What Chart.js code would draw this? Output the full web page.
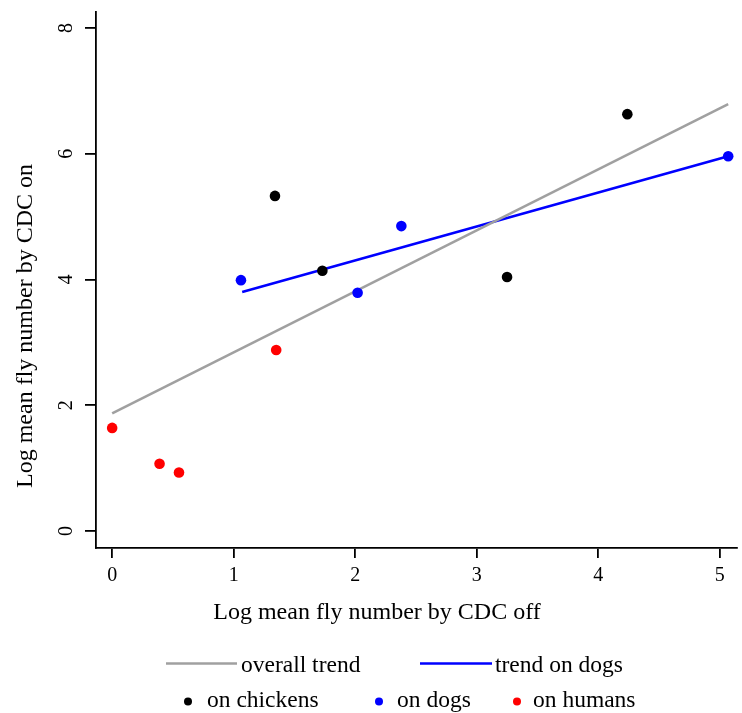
<!DOCTYPE html>
<html>
<head>
<meta charset="utf-8">
<script src="https://cdn.jsdelivr.net/npm/chart.js@4"></script>
<style>
  body { margin: 0; background: #fff; }
  #wrap { width: 742px; height: 713px; }
</style>
</head>
<body>
<div id="wrap"><canvas id="fly"></canvas></div>
<script>
// values (log mean fly numbers)
const chickenX = [1.34, 1.73, 3.25, 4.24];
const chickenY = [5.33, 4.14, 4.04, 6.63];
const dogX = [1.06, 2.02, 2.38, 5.07];
const dogY = [3.99, 3.79, 4.85, 5.96];
const humanX = [0.0, 0.39, 0.55, 1.35];
const humanY = [1.64, 1.07, 0.93, 2.88];
// fitted lines, end points as drawn
const overallX = [0.0, 5.07];
const overallY = [1.87, 6.79];
const dogTrendX = [1.07, 5.07];
const dogTrendY = [3.80, 5.96];
const xTicks = [0, 1, 2, 3, 4, 5];
const yTicks = [0, 2, 4, 6, 8];
const xTitle = 'Log mean fly number by CDC off';
const yTitle = 'Log mean fly number by CDC on';

const serif = "'Liberation Serif', 'Times New Roman', serif";
Chart.defaults.color = '#000';
Chart.defaults.font.family = serif;

function pts(xs, ys) {
  return xs.map((x, i) => ({ x: x, y: ys[i] }));
}

// rotated y tick labels, axis titles and the two-row legend under the plot
const extras = {
  id: 'extras',
  afterDraw(chart) {
    const ctx = chart.ctx;
    const ys = chart.scales.y;
    ctx.save();
    ctx.fillStyle = '#000';
    ctx.font = '20px ' + serif;
    ctx.textAlign = 'center';
    ctx.textBaseline = 'middle';
    ys.ticks.forEach(t => {
      const py = ys.getPixelForValue(t.value);
      ctx.save();
      ctx.translate(67, py);
      ctx.rotate(-Math.PI / 2);
      ctx.fillText(String(t.value), 0, 0);
      ctx.restore();
    });

    // axis titles
    ctx.font = '24px ' + serif;
    ctx.textBaseline = 'alphabetic';
    ctx.fillText(xTitle, 377, 619);
    ctx.save();
    ctx.translate(32, 326);
    ctx.rotate(-Math.PI / 2);
    ctx.fillText(yTitle, 0, 0);
    ctx.restore();

    ctx.font = '23.5px ' + serif;
    ctx.textAlign = 'left';
    ctx.lineWidth = 2.5;
    // row 1: lines
    ctx.strokeStyle = '#a0a0a0';
    ctx.beginPath(); ctx.moveTo(166, 663.5); ctx.lineTo(237, 663.5); ctx.stroke();
    ctx.fillText('overall trend', 241, 671.5);
    ctx.strokeStyle = '#0000ff';
    ctx.beginPath(); ctx.moveTo(420, 663.5); ctx.lineTo(492, 663.5); ctx.stroke();
    ctx.fillText('trend on dogs', 495, 671.5);
    // row 2: dots
    const dots = [[188, '#000000', 'on chickens', 207], [379, '#0000ff', 'on dogs', 397], [517, '#ff0000', 'on humans', 533]];
    dots.forEach(d => {
      ctx.fillStyle = d[1];
      ctx.beginPath(); ctx.arc(d[0], 701.5, 4, 0, Math.PI * 2); ctx.fill();
      ctx.fillStyle = '#000';
      ctx.fillText(d[2], d[3], 707);
    });
    ctx.restore();
  }
};

new Chart(document.getElementById('fly'), {
  type: 'scatter',
  data: {
    datasets: [
      { label: 'on chickens', data: pts(chickenX, chickenY), backgroundColor: '#000', borderColor: '#000', pointRadius: 5.3, pointBorderWidth: 0 },
      { label: 'on dogs', data: pts(dogX, dogY), backgroundColor: '#0000ff', borderColor: '#0000ff', pointRadius: 5.3, pointBorderWidth: 0 },
      { label: 'on humans', data: pts(humanX, humanY), backgroundColor: '#ff0000', borderColor: '#ff0000', pointRadius: 5.3, pointBorderWidth: 0 },
      { label: 'overall trend', data: pts(overallX, overallY), showLine: true, borderColor: '#a0a0a0', borderWidth: 2.6, pointRadius: 0 },
      { label: 'trend on dogs', data: pts(dogTrendX, dogTrendY), showLine: true, borderColor: '#0000ff', borderWidth: 2.6, pointRadius: 0 }
    ]
  },
  options: {
    responsive: true,
    maintainAspectRatio: false,
    animation: false,
    layout: { padding: { top: 12, right: 0, left: 0, bottom: 0 } },
    plugins: { legend: { display: false }, tooltip: { enabled: false } },
    scales: {
      x: {
        type: 'linear',
        min: -0.133,
        max: 5.14,
        afterBuildTicks: s => { s.ticks = xTicks.map(v => ({ value: v })); },
        afterFit: s => { s.height = 165; },
        ticks: { font: { size: 20 }, padding: 6, color: '#000', autoSkip: false },
        grid: { drawOnChartArea: false, drawTicks: true, tickLength: 10, color: '#000', lineWidth: 1.8 },
        border: { display: true, color: '#000', width: 1.8 },
        title: { display: false }
      },
      y: {
        type: 'linear',
        min: -0.27,
        max: 8.255,
        afterBuildTicks: s => { s.ticks = yTicks.map(v => ({ value: v })); },
        afterFit: s => { s.width = 96; },
        ticks: { display: false },
        grid: { drawOnChartArea: false, drawTicks: true, tickLength: 11, color: '#000', lineWidth: 1.8 },
        border: { display: true, color: '#000', width: 1.8 },
        title: { display: false }
      }
    }
  },
  plugins: [extras]
});
</script>
</body>
</html>
